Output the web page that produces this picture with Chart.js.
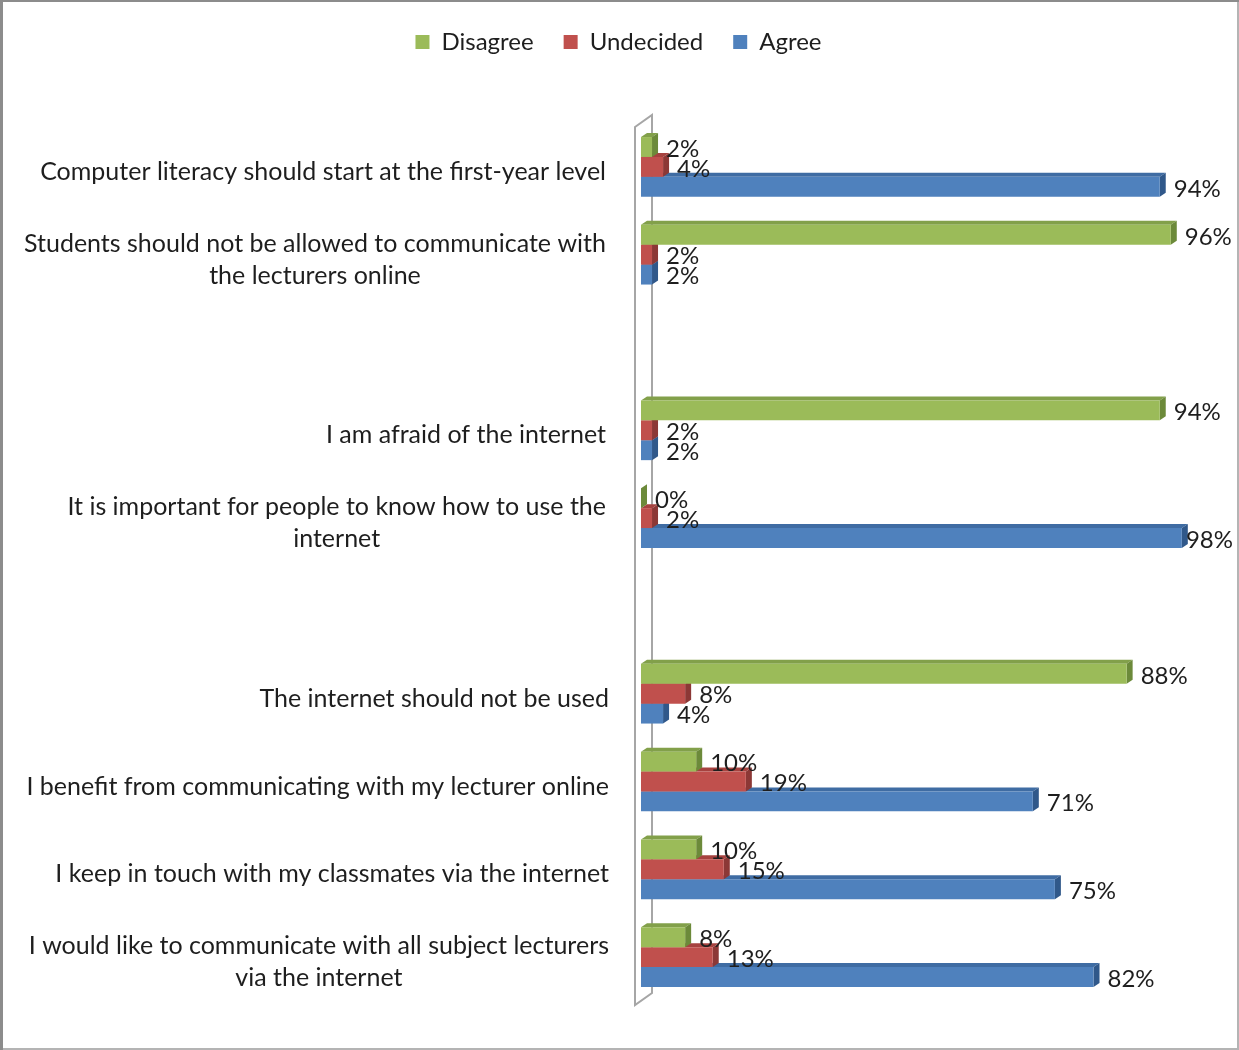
<!DOCTYPE html>
<html>
<head>
<meta charset="utf-8">
<script src="https://cdn.jsdelivr.net/npm/chart.js@4.4.1/dist/chart.umd.min.js"></script>
<style>
  html, body { margin: 0; padding: 0; background: #fff; }
  #wrap { width: 1239px; height: 1050px; position: relative; }
</style>
</head>
<body>
<div id="wrap"><canvas id="grafica"></canvas></div>
<script>
// Categorías (vacías = huecos entre bloques)
const categorias = [
    ['Computer literacy should start at the first-year level'],
    ['Students should not be allowed to communicate with', 'the lecturers online'],
    [''],
    ['I am afraid of the internet'],
    ['It is important for people to know how to use the', 'internet'],
    [''],
    ['The internet should not be used'],
    ['I benefit from communicating with my lecturer online'],
    ['I keep in touch with my classmates via the internet'],
    ['I would like to communicate with all subject lecturers', 'via the internet']
];

const serieDisagree  = [2, 96, null, 94, 0, null, 88, 10, 10, 8];
const serieUndecided = [4, 2, null, 2, 2, null, 8, 19, 15, 13];
const serieAgree     = [94, 2, null, 2, 98, null, 4, 71, 75, 82];

const fuente = 'Lato';

// Colores: frente, cara superior, cara lateral
const colores = {
    Disagree:  ['#9BBB59', '#82A04A', '#6C8A3A'],
    Undecided: ['#C0504D', '#A6423F', '#8C3836'],
    Agree:     ['#4F81BD', '#3F6CA3', '#30588A']
};

const DX = 6, DY = 4; // profundidad 3D

// Marco gris alrededor del gráfico
const marcoPlugin = {
    id: 'marco',
    beforeDraw(chart) {
        const c = chart.ctx;
        c.save();
        c.fillStyle = '#fff';
        c.fillRect(0, 0, chart.width, chart.height);
        c.fillStyle = '#B4B4B4';
        c.fillRect(chart.width - 2, 0, 2, chart.height);
        c.fillRect(0, chart.height - 2, chart.width, 2);
        c.fillStyle = '#8C8C8C';
        c.fillRect(0, 0, chart.width, 2);
        c.fillRect(0, 0, 3, chart.height);
        c.restore();
    }
};

// Espacio extra bajo la leyenda
const leyendaAltoPlugin = {
    id: 'leyendaAlto',
    beforeInit(chart) {
        const fitOriginal = chart.legend.fit;
        chart.legend.fit = function() {
            fitOriginal.bind(chart.legend)();
            this.height = 123;
        };
    }
};

// Pared 3D detrás de las barras
const paredPlugin = {
    id: 'pared',
    beforeDatasetsDraw(chart) {
        const c = chart.ctx;
        const a = chart.chartArea;
        const x0 = chart.scales.x.getPixelForValue(0);
        const xf = x0 - 6, xb = x0 + 11;
        c.save();
        c.strokeStyle = '#A6A6A6';
        c.lineWidth = 2;
        c.beginPath();
        c.moveTo(xf, a.top + 4);
        c.lineTo(xb, a.top - 8);
        c.lineTo(xb, a.bottom - 8);
        c.lineTo(xf, a.bottom + 4);
        c.closePath();
        c.stroke();
        c.restore();
    }
};

// Caras superior y lateral de cada barra
const barras3DPlugin = {
    id: 'barras3D',
    beforeDatasetDraw(chart, args) {
        const c = chart.ctx;
        const ds = chart.data.datasets[args.index];
        const col = colores[ds.label];
        c.save();
        args.meta.data.forEach((el, i) => {
            if (ds.data[i] === null) return;
            const p = el.getProps(['x', 'y', 'base', 'height'], true);
            const top = p.y - p.height / 2;
            const bottom = p.y + p.height / 2;
            c.fillStyle = col[1];
            c.beginPath();
            c.moveTo(p.base, top);
            c.lineTo(p.base + DX, top - DY);
            c.lineTo(p.x + DX, top - DY);
            c.lineTo(p.x, top);
            c.closePath();
            c.fill();
            c.fillStyle = col[2];
            c.beginPath();
            c.moveTo(p.x, top);
            c.lineTo(p.x + DX, top - DY);
            c.lineTo(p.x + DX, bottom - DY);
            c.lineTo(p.x, bottom);
            c.closePath();
            c.fill();
        });
        c.restore();
    }
};

// Etiquetas de categoría y de valor
const etiquetasPlugin = {
    id: 'etiquetas',
    afterDatasetsDraw(chart) {
        const c = chart.ctx;
        const a = chart.chartArea;
        const yScale = chart.scales.y;
        c.save();
        c.fillStyle = '#1E1E1E';
        c.textBaseline = 'middle';

        // categorías: bloque alineado a la derecha, líneas centradas entre sí
        c.font = '25px ' + fuente;
        const altoLinea = 32;
        categorias.forEach((lineas, i) => {
            const derecha = i < 6 ? 606 : 609;
            const yc = yScale.getPixelForValue(i) + 5;
            const ancho = Math.max(...lineas.map(l => c.measureText(l).width));
            c.textAlign = 'center';
            lineas.forEach((l, k) => {
                const y = yc + (k - (lineas.length - 1) / 2) * altoLinea;
                c.fillText(l, derecha - ancho / 2, y);
            });
        });

        // valores
        c.font = '24px ' + fuente;
        c.textAlign = 'left';
        chart.data.datasets.forEach((ds, d) => {
            const meta = chart.getDatasetMeta(d);
            meta.data.forEach((el, i) => {
                const v = ds.data[i];
                if (v === null) return;
                const p = el.getProps(['x', 'y'], true);
                const txt = v + '%';
                const w = c.measureText(txt).width;
                const x = Math.min(p.x + 14, a.right - 4 - w);
                c.fillText(txt, x, p.y + 2);
            });
        });
        c.restore();
    }
};

function renderGrafica() {
    const ctx = document.getElementById('grafica').getContext('2d');
    new Chart(ctx, {
        type: 'bar',
        data: {
            labels: categorias,
            datasets: [
                { label: 'Disagree',  data: serieDisagree,  backgroundColor: colores.Disagree[0] },
                { label: 'Undecided', data: serieUndecided, backgroundColor: colores.Undecided[0] },
                { label: 'Agree',     data: serieAgree,     backgroundColor: colores.Agree[0] }
            ]
        },
        options: {
            indexAxis: 'y',
            responsive: true,
            maintainAspectRatio: false,
            animation: false,
            datasets: {
                bar: {
                    barPercentage: 1.0,
                    categoryPercentage: 0.68,
                    borderWidth: 0
                }
            },
            layout: {
                padding: { top: 0, right: 2, bottom: 49, left: 0 }
            },
            plugins: {
                legend: {
                    position: 'top',
                    labels: {
                        boxWidth: 14,
                        boxHeight: 14,
                        padding: 30,
                        color: '#1E1E1E',
                        font: { family: fuente, size: 24 }
                    }
                },
                tooltip: { enabled: false }
            },
            scales: {
                x: {
                    display: false,
                    min: 0,
                    max: 108
                },
                y: {
                    display: true,
                    ticks: { display: false },
                    grid: { display: false },
                    border: { display: false },
                    afterFit: function(scale) {
                        scale.width = 641;
                    }
                }
            }
        },
        plugins: [marcoPlugin, leyendaAltoPlugin, paredPlugin, barras3DPlugin, etiquetasPlugin]
    });
}

renderGrafica();
</script>
</body>
</html>
